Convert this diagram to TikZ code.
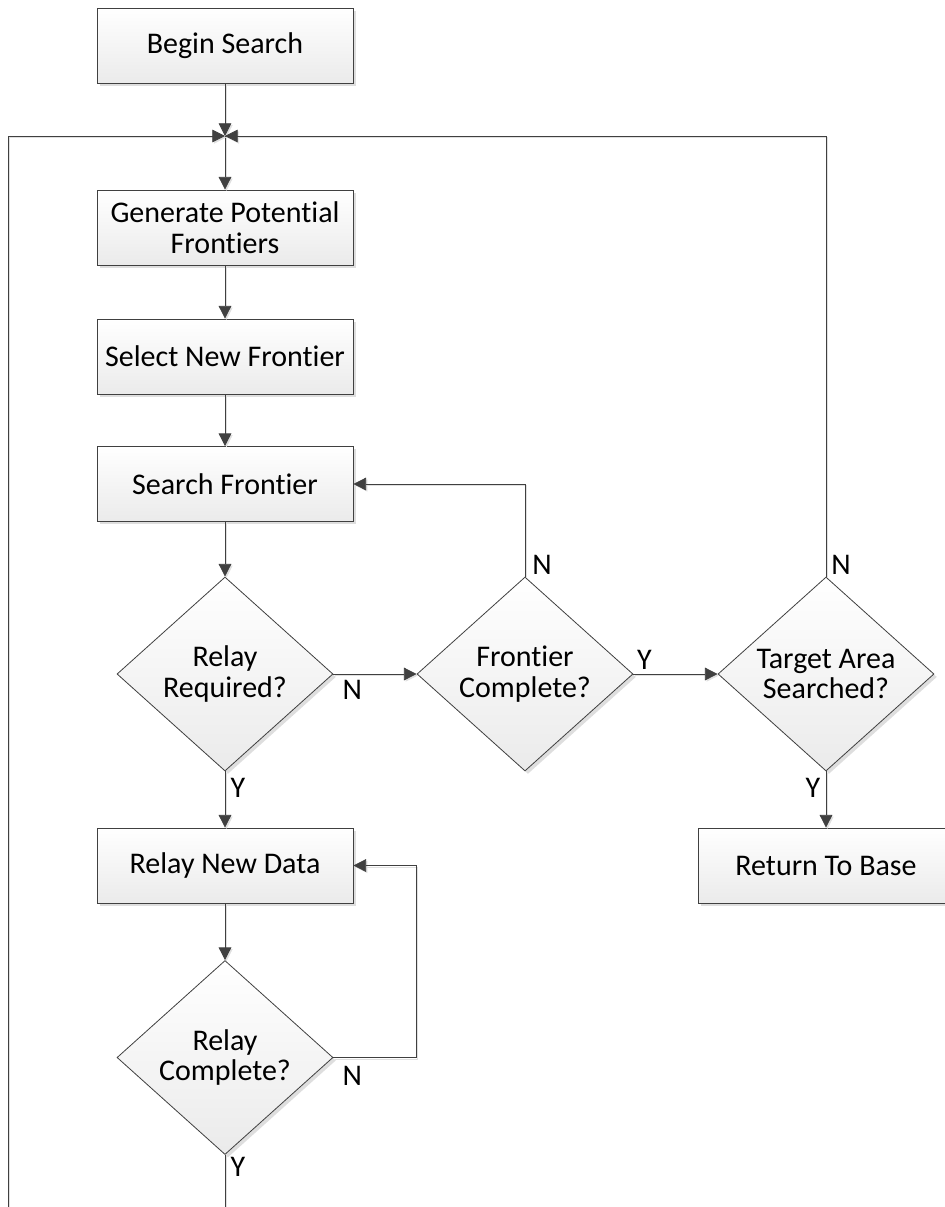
\documentclass[tikz,border=0pt]{standalone}
\usepackage{fontspec}
\setmainfont[Ligatures={NoCommon}]{Carlito}
\usetikzlibrary{shapes.geometric,arrows.meta,shadows}
\definecolor{edge}{HTML}{404040}
\newcommand\flowfont{\fontsize{22.5}{23}\selectfont}
\tikzset{
  x=0.75pt, y=-0.75pt,
  shade/.style={drop shadow={shadow xshift=2.2pt, shadow yshift=-2.2pt, fill=black!13, opacity=1}},
  box/.style={draw=edge, line width=0.6pt, top color=white, bottom color=black!8,
    minimum width=192pt, minimum height=56.25pt, align=center, font=\flowfont, shade},
  decision/.style={diamond, draw=edge, line width=0.6pt, top color=white, bottom color=black!8,
    minimum width=162pt, minimum height=145.5pt, inner sep=0pt, align=center, font=\flowfont, shade},
  conn/.style={draw=edge, line width=0.6pt, -{Triangle[length=9.5pt,width=9.5pt]},
    preaction={draw=black!12, transform canvas={shift={(1.1pt,-1.1pt)}}}},
  lbl/.style={font=\flowfont, inner sep=0pt}
}
\begin{document}
\begin{tikzpicture}
\useasboundingbox (0,0) rectangle (945,1207);
\clip (0,0) rectangle (945,1207);

% process boxes
\node[box] (bs) at (225,45.5) {Begin Search};
\node[box] (gp) at (225,227.5) {Generate Potential\\Frontiers};
\node[box] (sn) at (225,356.5) {Select New Frontier};
\node[box] (sf) at (225,484) {Search Frontier};
\node[box] (rd) at (225,865.5) {Relay New Data};
\node[box] (rb) at (826,865.5) {Return To Base};

% decisions
\node[decision] (rr) at (225,674) {Relay\\Required?};
\node[decision] (fc) at (525,674) {Frontier\\Complete?};
\node[decision] (ta) at (826,674) {Target Area\\Searched?};
\node[decision] (rc) at (225,1057.5) {Relay\\Complete?};

% routing points
\coordinate (J) at (225,136);
\coordinate (rcx) at (416,865.5);
\coordinate (bm) at (225,1240);
\coordinate (bl) at (8,1240);

% connectors
\draw[conn] (bs) -- (J);
\draw[conn] (J) -- (gp);
\draw[conn] (gp) -- (sn);
\draw[conn] (sn) -- (sf);
\draw[conn] (sf) -- (rr);
\draw[conn] (rr) -- (fc);
\draw[conn] (fc.north) |- (sf.east);
\draw[conn] (fc) -- (ta);
\draw[conn] (ta.north) |- (J);
\draw[conn] (ta) -- (rb);
\draw[conn] (rr) -- (rd);
\draw[conn] (rd) -- (rc);
\draw[conn] (rc.east) -| (rcx) -- (rd.east);
\draw[conn] (rc.south) -- (bm) -- (bl) |- (J);

% branch labels
\node[lbl] (l1) at ([shift={(19,16)}]rr.east) {N};
\node[lbl] (l2) at ([shift={(17,-12)}]fc.north) {N};
\node[lbl] (l3) at ([shift={(11,-14)}]fc.east) {Y};
\node[lbl] (l4) at ([shift={(15,-12)}]ta.north) {N};
\node[lbl] (l5) at ([shift={(-13,16)}]ta.south) {Y};
\node[lbl] (l6) at ([shift={(13,16)}]rr.south) {Y};
\node[lbl] (l7) at ([shift={(19,18)}]rc.east) {N};
\node[lbl] (l8) at ([shift={(13,12)}]rc.south) {Y};
\end{tikzpicture}
\end{document}
